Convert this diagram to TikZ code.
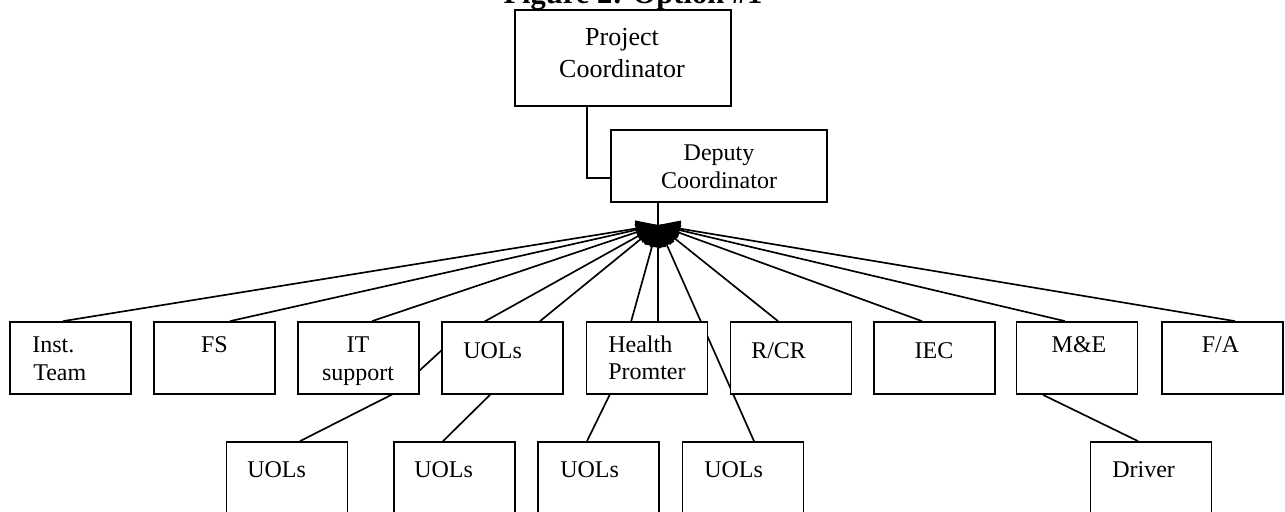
\documentclass[tikz,border=0pt]{standalone}
\usepackage{fontspec}
\setmainfont{Liberation Serif}
\usetikzlibrary{arrows.meta,backgrounds}
\tikzset{
  box/.style={draw, fill=white, line width=1.3pt, inner sep=0pt, minimum width=90.75pt, minimum height=54pt},
  lbl/.style={inner sep=0pt, font=\fontsize{18}{20}\selectfont},
  conn/.style={line width=1.25pt},
  arr/.style={conn, -{Triangle[length=16.5pt,width=12pt]}},
}
\begin{document}
\begin{tikzpicture}[x=0.75pt,y=-0.75pt]
\useasboundingbox (0,0) rectangle (1285,511);
\node[anchor=base, inner sep=0pt, font=\bfseries\fontsize{22.9}{26}\selectfont] (title) at (633,3) {Figure 2: Option \#1};

% boxes
\node[box, minimum width=162pt, minimum height=72pt] (pc) at (623,58) {};
\node[box, minimum width=162pt, minimum height=54pt] (dc) at (719,166) {};

\node[box] (inst) at (70.5,358) {};
\node[box] (fs)   at (214.5,358) {};
\node[box] (it)   at (358.5,358) {};
\node[box] (uol)  at (502.5,358) {};
\node[box] (hp)   at (647,358) {};
\node[box] (rcr)  at (791,358) {};
\node[box] (iec)  at (934.5,358) {};
\node[box] (me)   at (1077,358) {};
\node[box] (fa)   at (1222.5,358) {};

\node[box] (ua)  at (287,478) {};
\node[box] (ub)  at (454.5,478) {};
\node[box] (uc)  at (598.5,478) {};
\node[box] (ud)  at (743,478) {};
\node[box] (drv) at (1151,478) {};

% texts
\node[lbl, anchor=base, font=\fontsize{19.5}{22}\selectfont] (tpc1) at (622,45) {Project};
\node[lbl, anchor=base, font=\fontsize{19.5}{22}\selectfont] (tpc2) at (622,77) {Coordinator};
\node[lbl, anchor=base] (tdc1) at (719,160) {Deputy};
\node[lbl, anchor=base] (tdc2) at (719,188) {Coordinator};

\node[lbl, anchor=base west] (tinst1) at (32,352.5) {Inst.};
\node[lbl, anchor=base west] (tinst2) at (33,380) {Team};
\node[lbl, anchor=base] (tfs) at (214.5,352.5) {FS};
\node[lbl, anchor=base] (tit1) at (358,352.5) {IT};
\node[lbl, anchor=base] (tit2) at (358,380) {support};
\node[lbl, anchor=base west] (tuol) at (463,358) {UOLs};
\node[lbl, anchor=base west] (thp1) at (608,352) {Health};
\node[lbl, anchor=base west] (thp2) at (608,379.5) {Promter};
\node[lbl, anchor=base west] (trcr) at (751,358) {R/CR};
\node[lbl, anchor=base] (tiec) at (934,358) {IEC};
\node[lbl, anchor=base] (tme) at (1079,352) {M\&E};
\node[lbl, anchor=base] (tfa) at (1220.5,352) {F/A};

\node[lbl, anchor=base west] (tua) at (247,477) {UOLs};
\node[lbl, anchor=base west] (tub) at (414,477) {UOLs};
\node[lbl, anchor=base west] (tuc) at (560,477) {UOLs};
\node[lbl, anchor=base west] (tud) at (704,477) {UOLs};
\node[lbl, anchor=base west] (tdrv) at (1112,477) {Driver};

% connectors
\coordinate (hub) at (658,225);
\coordinate (bendA1) at (395,393);
\coordinate (bendA2) at (455,338);
\coordinate (bendC) at (612,390);
\begin{scope}[on background layer]
\draw[conn] (pc.south -| 587,0) |- (dc.west |- 0,178);
\draw[conn] (dc.south -| hub) -- (hub);
\draw[arr] (inst.north -| 63,0) -- (hub);
\draw[arr] (fs.north -| 230,0) -- (hub);
\draw[arr] (it.north -| 372,0) -- (hub);
\draw[arr] (uol.north -| 540,0) -- (hub);
\draw[arr] (hp.north -| hub) -- (hub);
\draw[arr] (rcr.north -| 778,0) -- (hub);
\draw[arr] (iec.north -| 922,0) -- (hub);
\draw[arr] (me.north -| 1065,0) -- (hub);
\draw[arr] (fa.north -| 1235,0) -- (hub);
\draw[arr] (ua.north -| 300,0) -- (bendA1) -- (bendA2) -- (hub);
\draw[conn] (ub.north -| 443,0) -- (uol.south -| 490,0);
\draw[arr] (uc.north -| 587,0) -- (bendC) -- (hub);
\draw[arr] (ud.north -| 754,0) -- (hub);
\draw[conn] (drv.north -| 1138,0) -- (me.south -| 1043,0);
\end{scope}
\end{tikzpicture}
\end{document}
